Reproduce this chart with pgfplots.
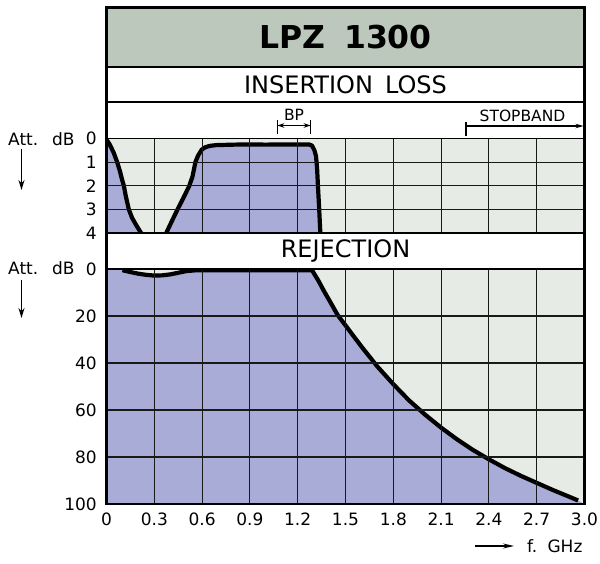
\documentclass[border=0pt]{standalone}
\usepackage{pgfplots}
\pgfplotsset{compat=1.18}
\usetikzlibrary{arrows.meta}
\usepackage{fontspec}
\setmainfont{DejaVu Sans}
\definecolor{titlebg}{RGB}{188,200,188}
\definecolor{gridbg}{RGB}{230,235,229}
\definecolor{fillc}{RGB}{169,172,214}
\newcommand{\tfont}{\fontsize{17}{19}\selectfont}
\pgfplotsset{
  base/.style={
    scale only axis, width=478pt, xmin=0, xmax=3,
    xtick={0,0.3,0.6,0.9,1.2,1.5,1.8,2.1,2.4,2.7,3.0},
    y dir=reverse,
    grid=major, major grid style={black!90, line width=1.1pt},
    axis line style={black, line width=1.8pt},
    major tick length=0pt,
    axis background/.style={fill=gridbg},
    axis on top,
    anchor=south west,
    yticklabel style={anchor=east, inner sep=0pt, xshift=-9.5pt, font=\tfont},
    xticklabel style={anchor=center, inner sep=0pt, yshift=-15pt, font=\tfont},
  }
}
\begin{document}
\begin{tikzpicture}
\useasboundingbox (0pt,0pt) rectangle (600pt,563pt);
\begin{scope}[x=1pt,y=1pt]
\fill[titlebg] (106.5,555.5) rectangle (584.5,496);
\fill[white] (106.5,496) rectangle (584.5,424.5);
\fill[white] (106.5,330) rectangle (584.5,294);
\end{scope}

% Insertion loss
\begin{axis}[base, at={(106.5pt,330pt)}, height=94.5pt, ymin=0, ymax=4,
  ytick={0,1,2,3,4}, yticklabels={0,1,2,3,4}, xticklabels={}]
\addplot[fill=fillc, draw=none] coordinates {
 (0,4) (0,0.05) (0.02,0.25) (0.045,0.6) (0.067,1.0) (0.085,1.4) (0.098,1.75) (0.109,2.0)
 (0.12,2.4) (0.14,3.0) (0.16,3.35) (0.185,3.65) (0.217,4)} -- cycle;
\addplot[fill=fillc, draw=none] coordinates {
 (0.375,4) (0.41,3.5) (0.446,3.0) (0.48,2.55) (0.52,2.0) (0.54,1.6) (0.558,1.0) (0.575,0.72)
 (0.598,0.47) (0.62,0.37) (0.65,0.31) (0.69,0.28) (0.8,0.26) (0.9,0.25) (1.0,0.26) (1.1,0.25)
 (1.2,0.25) (1.27,0.25) (1.29,0.3) (1.305,0.5) (1.315,0.75) (1.322,1.3) (1.327,2.0)
 (1.335,3.0) (1.342,4)} -- cycle;
\addplot[black, line width=4.2pt, line join=round] coordinates {
 (0,0.05) (0.02,0.25) (0.045,0.6) (0.067,1.0) (0.085,1.4) (0.098,1.75) (0.109,2.0)
 (0.12,2.4) (0.14,3.0) (0.16,3.35) (0.185,3.65) (0.217,4)};
\addplot[black, line width=4.2pt, line join=round] coordinates {
 (0.375,4) (0.41,3.5) (0.446,3.0) (0.48,2.55) (0.52,2.0) (0.54,1.6) (0.558,1.0) (0.575,0.72)
 (0.598,0.47) (0.62,0.37) (0.65,0.31) (0.69,0.28) (0.8,0.26) (0.9,0.25) (1.0,0.26) (1.1,0.25)
 (1.2,0.25) (1.27,0.25) (1.29,0.3) (1.305,0.5) (1.315,0.75) (1.322,1.3) (1.327,2.0)
 (1.335,3.0) (1.342,4)};
\end{axis}

% Rejection
\begin{axis}[base, at={(106.5pt,59pt)}, height=235pt, ymin=0, ymax=100,
  ytick={0,20,40,60,80,100}, yticklabels={0,20,40,60,80,100},
  xticklabels={0,0.3,0.6,0.9,1.2,1.5,1.8,2.1,2.4,2.7,3.0}]
\addplot[fill=fillc, draw=none] coordinates {
 (0,100) (0,0) (0.1,0.5) (0.15,1.3) (0.2,2.0) (0.25,2.5) (0.3,2.8) (0.35,2.7) (0.4,2.3)
 (0.45,1.6) (0.5,0.9) (0.55,0.6) (0.6,0.5) (0.9,0.5) (1.2,0.5) (1.29,0.5) (1.33,5) (1.37,10)
 (1.40,13.5) (1.45,19.5) (1.5,24) (1.6,33) (1.7,41.5) (1.8,49) (1.9,56) (2.0,62) (2.1,67.5)
 (2.2,72.5) (2.3,77) (2.4,81) (2.5,84.7) (2.6,88) (2.7,91) (2.8,94) (2.9,96.8) (2.96,98.5)
 (3,100)} -- cycle;
\addplot[black, line width=4.2pt, line join=round] coordinates {
 (0.1,0.5) (0.15,1.3) (0.2,2.0) (0.25,2.5) (0.3,2.8) (0.35,2.7) (0.4,2.3)
 (0.45,1.6) (0.5,0.9) (0.55,0.6) (0.6,0.5) (0.9,0.5) (1.2,0.5) (1.29,0.5) (1.33,5) (1.37,10)
 (1.40,13.5) (1.45,19.5) (1.5,24) (1.6,33) (1.7,41.5) (1.8,49) (1.9,56) (2.0,62) (2.1,67.5)
 (2.2,72.5) (2.3,77) (2.4,81) (2.5,84.7) (2.6,88) (2.7,91) (2.8,94) (2.9,96.8) (2.96,98.5)};
\end{axis}

\begin{scope}[x=1pt,y=1pt]
% frame and separators
\draw[line width=2.2pt] (106.5,59) rectangle (584.5,555.5);
\draw[line width=2.2pt] (106.5,496) -- (584.5,496);
\draw[line width=2.2pt] (106.5,461) -- (584.5,461);

% titles
\node[font=\bfseries\fontsize{31.5}{34}\selectfont] at (345.5,526) {LPZ\hspace{0.6em}1300};
\node[font=\fontsize{24}{26}\selectfont] at (345.5,478.5) {INSERTION\hspace{0.5em}LOSS};
\node[font=\fontsize{24}{26}\selectfont] at (345.5,312) {REJECTION};

% BP and stopband markers
\node[font=\fontsize{15.5}{17}\selectfont] at (294,448) {BP};
\draw[line width=1.2pt] (277.3,443) -- (277.3,429);
\draw[line width=1.2pt] (310.7,443) -- (310.7,429);
\draw[line width=1.2pt, {Stealth[length=7pt,width=4.5pt]}-{Stealth[length=7pt,width=4.5pt]}] (277.3,437.5) -- (310.7,437.5);
\node[font=\fontsize{15.5}{17}\selectfont] at (522.5,447.5) {STOPBAND};
\draw[line width=1.2pt] (466,441) -- (466,427);
\draw[line width=1.2pt, -{Stealth[length=8pt,width=4.5pt]}] (466,437) -- (583.5,437);

% left labels
\node[font=\tfont, anchor=west, inner sep=0pt] at (8,424) {Att.};
\node[font=\tfont, anchor=west, inner sep=0pt] at (52,424) {dB};
\node[font=\tfont, anchor=west, inner sep=0pt] at (8,295) {Att.};
\node[font=\tfont, anchor=west, inner sep=0pt] at (52,295) {dB};
\draw[line width=1.3pt, -{Stealth[length=10pt,width=6pt]}] (21.5,414) -- (21.5,373);
\draw[line width=1.3pt, -{Stealth[length=10pt,width=6pt]}] (21.5,283) -- (21.5,245);

% bottom axis label
\draw[line width=1.3pt, -{Stealth[length=11pt,width=5pt]}] (475,17) -- (514,17);
\node[font=\tfont, anchor=west, inner sep=0pt] at (527,17) {f.\hspace{0.6em}GHz};
\end{scope}
\end{tikzpicture}
\end{document}
